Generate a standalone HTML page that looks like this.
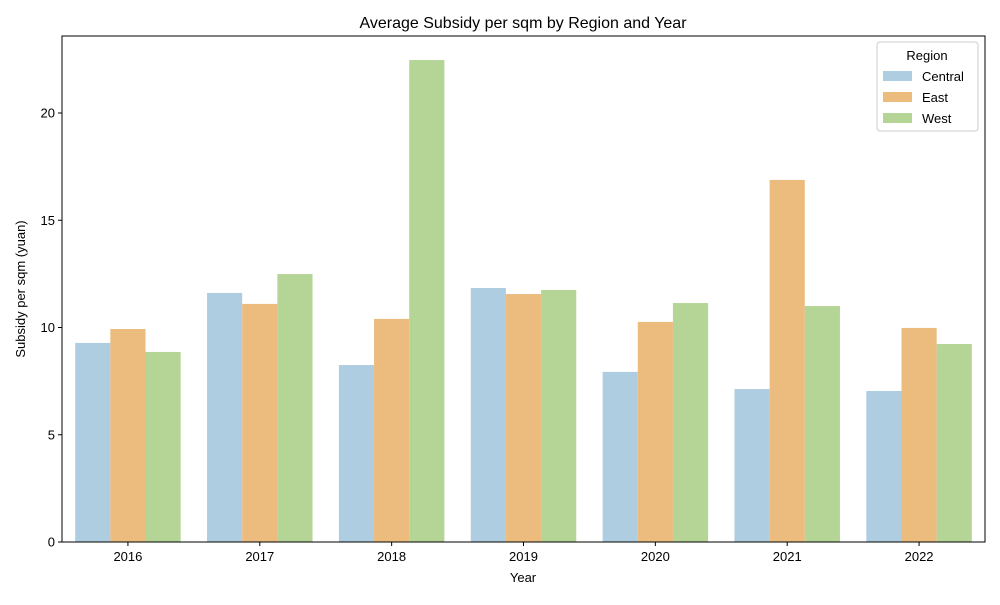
<!DOCTYPE html>
<html><head><meta charset="utf-8"><style>
body{margin:0;background:#fff;font-family:"Liberation Sans","DejaVu Sans",sans-serif}
</style></head><body>
<svg width="1000" height="600" xmlns="http://www.w3.org/2000/svg" font-family="Liberation Sans, DejaVu Sans, sans-serif">
<text x="523" y="28" text-anchor="middle" font-size="16">Average Subsidy per sqm by Region and Year</text>
<g id="bars"></g>
<g id="axes"></g>
<rect x="62" y="36" width="923" height="506" fill="none" stroke="#000" stroke-width="1"/>
<text x="523" y="582" text-anchor="middle" font-size="13">Year</text>
<text transform="translate(25,289) rotate(-90)" text-anchor="middle" font-size="13">Subsidy per sqm (yuan)</text>
<g id="legend">
<rect x="877" y="42" width="101" height="89" rx="3" fill="#fff" stroke="#ccc"/>
<text x="927" y="60" text-anchor="middle" font-size="13">Region</text>
</g>
</svg>
<script>
const years=["2016","2017","2018","2019","2020","2021","2022"];
const regions=["Central","East","West"];
const central=[9.28,11.61,8.25,11.84,7.93,7.13,7.04];
const east=[9.93,11.10,10.40,11.56,10.26,16.88,9.98];
const west=[8.86,12.49,22.47,11.75,11.14,11.0,9.23];
const yTicks=[0,5,10,15,20];
const colors=["#aecde0","#ecbb7e","#b4d595"];
const series=[central,east,west];
const NS="http://www.w3.org/2000/svg";
const x0=62,x1=985,yB=542,yPerUnit=21.45;
const y=v=>yB-v*yPerUnit;
const band=(x1-x0)/years.length;
const xc=i=>x0+band*(i+0.5);
const bw=band*0.8/3;
const bars=document.getElementById('bars'),axes=document.getElementById('axes'),leg=document.getElementById('legend');
function mk(t,a,p){const e=document.createElementNS(NS,t);for(const k in a)e.setAttribute(k,a[k]);p.appendChild(e);return e;}
series.forEach((s,r)=>s.forEach((v,i)=>{
 const e=mk('rect',{x:xc(i)-1.5*bw+r*bw,y:y(v),width:bw,height:v*yPerUnit,fill:colors[r]},bars);
 
 
}));
years.forEach((yr,i)=>{
 const l=mk('line',{x1:xc(i),x2:xc(i),y1:yB,y2:yB+4,stroke:'#000'},axes);
 
 
 const t=mk('text',{x:xc(i),y:yB+19,'text-anchor':'middle','font-size':13},axes);t.textContent=yr;
 
 
});
yTicks.forEach(v=>{
 const l=mk('line',{x1:x0-4,x2:x0,y1:y(v),y2:y(v),stroke:'#000'},axes);
 
 
 const t=mk('text',{x:x0-7,y:y(v)+4.5,'text-anchor':'end','font-size':13},axes);t.textContent=v;
 
 
});
regions.forEach((r,k)=>{
 const yy=76+k*21;
 const s=mk('rect',{x:883,y:yy-5,width:29,height:10,fill:colors[k]},leg);
 
 
 const t=mk('text',{x:922,y:yy+5,'font-size':13},leg);t.textContent=r;
 
 
});
</script>
</body></html>
